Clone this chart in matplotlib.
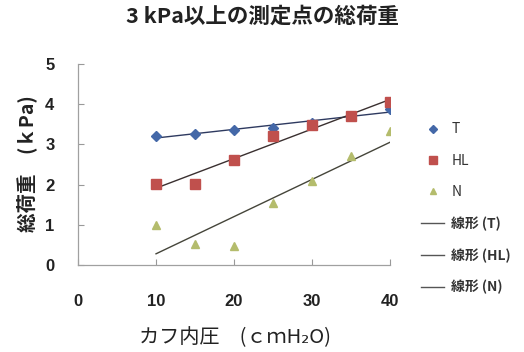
import numpy as np
import matplotlib
matplotlib.use('Agg')
import matplotlib.pyplot as plt
from matplotlib.lines import Line2D

plt.rcParams['font.family'] = ['Noto Sans CJK JP', 'DejaVu Sans']

# cuff pressure (cmH2O) and total load (kPa) per group
pressure = [10, 15, 20, 25, 30, 35, 40]
load_T = [3.22, 3.26, 3.37, 3.42, 3.52, 3.70, 3.88]
load_HL = [2.02, 2.02, 2.62, 3.22, 3.47, 3.70, 4.05]
load_N = [1.00, 0.52, 0.48, 1.55, 2.08, 2.70, 3.33]

series_names = ['T', 'HL', 'N']
trend_names = ['線形 (T)', '線形 (HL)', '線形 (N)']
x_ticks = [0, 10, 20, 30, 40]
y_ticks = [0, 1, 2, 3, 4, 5]

fig = plt.figure(figsize=(5.24, 3.52), dpi=100)
ax = fig.add_axes([0.1489, 0.2472, 0.5954, 0.571])

styles = [
    (load_T, 'D', '#4468a8', 5),
    (load_HL, 's', '#c0504d', 7),
    (load_N, '^', '#b4bc6c', 6),
]

x = np.array(pressure)
handles = []
for (vals, mk, col, ms), name in zip(styles, series_names):
    ax.plot(x, vals, linestyle='none', marker=mk, color=col, markersize=ms,
            markeredgecolor=col, zorder=3)
    handles.append(Line2D([], [], linestyle='none', marker=mk, color=col,
                          markersize=ms - 1, label=name))

# least-squares trend line per series
trend_cols = ['#2e3a60', '#3a3030', '#45453a']
for (vals, mk, col, ms), tcol in zip(styles, trend_cols):
    k, b = np.polyfit(x, vals, 1)
    xs = np.array([x.min(), x.max()])
    ax.plot(xs, k * xs + b, color=tcol, linewidth=1.0, zorder=2)

for name in trend_names:
    handles.append(Line2D([], [], color='#555555', linewidth=1.0, label=name))

ax.set_xlim(0, 40)
ax.set_ylim(0, 5)
ax.set_xticks(x_ticks)
ax.set_yticks(y_ticks)
ax.tick_params(direction='in', length=4, color='#999999', width=0.8,
               labelsize=12)
ax.tick_params(axis='x', pad=21)
ax.tick_params(axis='y', pad=17)
for lab in ax.get_xticklabels() + ax.get_yticklabels():
    lab.set_fontweight('bold')
    lab.set_family(['Liberation Sans', 'DejaVu Sans'])
    lab.set_color('#222222')

for s in ['top', 'right']:
    ax.spines[s].set_visible(False)
for s in ['left', 'bottom']:
    ax.spines[s].set_color('#a0a0a0')
    ax.spines[s].set_linewidth(0.9)

fig.text(0.5, 0.955, '3 kPa以上の測定点の総荷重', ha='center', va='center',
         fontsize=15.5, fontweight='bold', color='#222222')
fig.text(0.05, 0.535, '総荷重　(ｋPa)', rotation=90, ha='center', va='center',
         fontsize=14, fontweight='bold', color='#222222')
fig.text(0.449, 0.04, 'カフ内圧　(ｃｍH₂O)', ha='center', va='center',
         fontsize=14.5, color='#222222')

leg = fig.legend(handles=handles, loc='upper left',
                 bbox_to_anchor=(0.803, 0.652), frameon=False, fontsize=10,
                 labelspacing=1.25, handlelength=1.7, handletextpad=0.5,
                 borderpad=0, borderaxespad=0)
for t in leg.get_texts():
    t.set_color('#333333')
for t in leg.get_texts()[3:]:
    t.set_fontweight('bold')

fig.savefig('out.png', dpi=100)
